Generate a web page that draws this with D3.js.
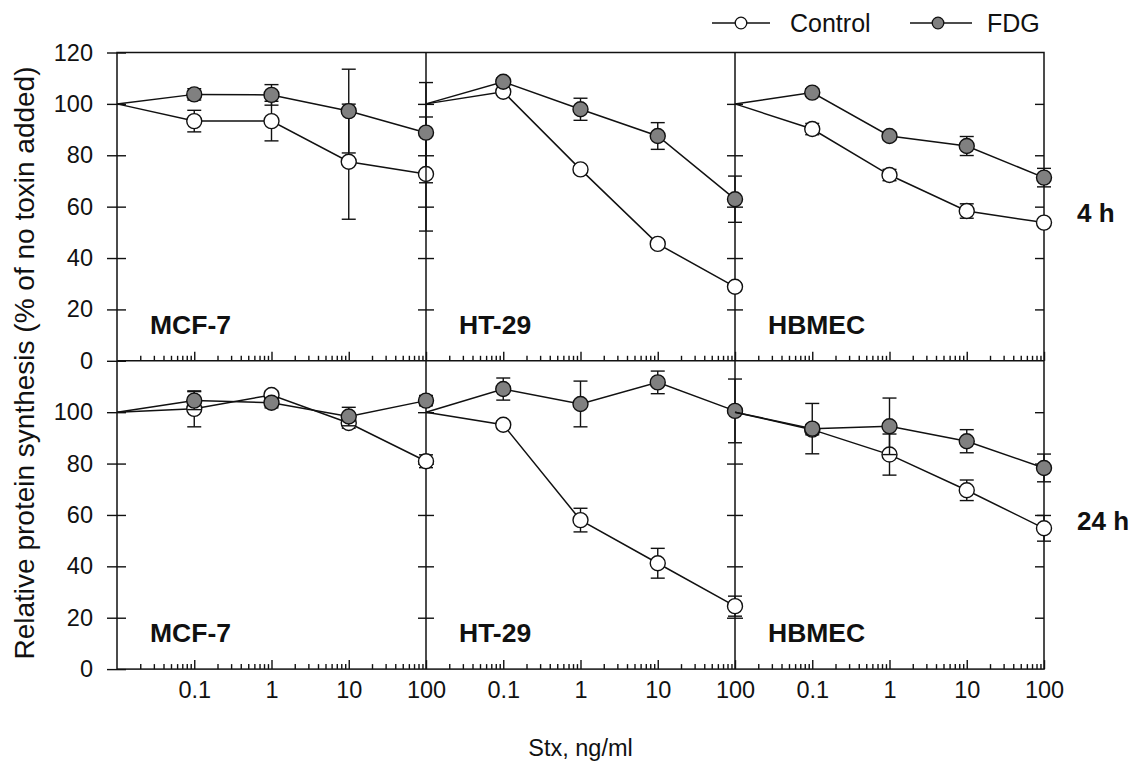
<!DOCTYPE html>
<html>
<head>
<meta charset="utf-8">
<script src="https://cdn.jsdelivr.net/npm/d3@7"></script>
<style>
  body { margin: 0; background: #fff; }
  svg text { font-family: "Liberation Sans", Arial, Helvetica, sans-serif; fill: #111; }
</style>
</head>
<body>
<svg id="chart" width="1138" height="769"></svg>
<script>
// ---- data -------------------------------------------------------------
const cellLines = ["MCF-7", "HT-29", "HBMEC"];
const timePoints = ["4 h", "24 h"];
const seriesNames = ["Control", "FDG"];
const doses = [0.1, 1, 10, 100];          // Stx, ng/ml
const untreatedLevel = 100;                 // no toxin added
const yTicksTop = [0, 20, 40, 60, 80, 100, 120];
const yTicksBottom = [0, 20, 40, 60, 80, 100];
const yInnerTicks = [20, 40, 60, 80, 100];
const xTickLabels = ["0.1", "1", "10", "100"];

// rows: MCF-7, HT-29, HBMEC ; columns: doses
const control4h    = [[93.3, 93.3, 77.5, 72.7], [104.7, 74.5, 45.5, 28.8], [90.2, 72.3, 58.3, 53.8]];
const control4hErr = [[4.2, 7.7, 22.4, 22.2],   [1.0, 1.0, 1.5, 1.5],      [2.2, 2.2, 2.8, 1.5]];
const fdg4h        = [[103.7, 103.5, 97.2, 88.8], [108.6, 97.9, 87.5, 62.9], [104.4, 87.5, 83.6, 71.3]];
const fdg4hErr     = [[2.2, 4.0, 16.3, 19.5],     [1.5, 4.3, 5.2, 9.0],      [1.5, 1.5, 3.7, 3.6]];

const control24h    = [[101.3, 106.7, 95.8, 80.9], [95.1, 58.0, 41.2, 24.5], [93.2, 83.5, 69.6, 54.8]];
const control24hErr = [[7.0, 1.5, 2.0, 2.5],       [1.5, 4.6, 5.8, 3.9],     [2.0, 8.0, 4.0, 5.0]];
const fdg24h        = [[104.5, 103.7, 98.3, 104.5], [109.0, 103.2, 111.6, 100.5], [93.6, 94.5, 88.7, 78.3]];
const fdg24hErr     = [[3.5, 2.0, 3.6, 2.0],        [4.3, 8.9, 4.4, 12.4],        [9.8, 11.0, 4.5, 5.4]];

// ---- layout -----------------------------------------------------------
const svg = d3.select("#chart");
const plotLeft = 117, plotRight = 1044, plotTop = 52.5, rowH = 308.3;
const panelW = (plotRight - plotLeft) / 3;
const plotBottom = plotTop + 2 * rowH;
const ink = "#111";
const grey = "#808080";

const rows = [
  { control: control4h, controlErr: control4hErr, fdg: fdg4h, fdgErr: fdg4hErr, ticks: yTicksTop },
  { control: control24h, controlErr: control24hErr, fdg: fdg24h, fdgErr: fdg24hErr, ticks: yTicksBottom }
];

function yScale(r) {
  return d3.scaleLinear().domain([0, 120]).range([plotTop + rowH * (r + 1), plotTop + rowH * r]);
}
function xScale(p) {
  return d3.scaleLog().domain([0.01, 100]).range([plotLeft + p * panelW, plotLeft + (p + 1) * panelW]);
}

function cleanAxis(g) {
  g.select(".domain").remove();
  g.selectAll(".tick line").attr("stroke", ink).attr("stroke-width", 1.4);
}

// ---- axes -------------------------------------------------------------
rows.forEach((row, r) => {
  const y = yScale(r);

  // left axis: ticks crossing the line, labelled
  svg.append("g").attr("transform", `translate(${plotLeft},0)`)
    .call(d3.axisLeft(y).tickValues(row.ticks).tickSize(10).tickPadding(14))
    .call(cleanAxis)
    .call(g => g.selectAll("text").attr("font-size", 23.5).attr("fill", ink));
  svg.append("g").attr("transform", `translate(${plotLeft},0)`)
    .call(d3.axisRight(y).tickValues(row.ticks).tickSize(9).tickFormat(""))
    .call(cleanAxis);

  // panel dividers carry crossing ticks
  [1, 2].forEach(p => {
    const xpos = plotLeft + p * panelW;
    svg.append("g").attr("transform", `translate(${xpos},0)`)
      .call(d3.axisLeft(y).tickValues(yInnerTicks).tickSize(8).tickFormat(""))
      .call(cleanAxis);
    svg.append("g").attr("transform", `translate(${xpos},0)`)
      .call(d3.axisRight(y).tickValues(yInnerTicks).tickSize(8).tickFormat(""))
      .call(cleanAxis);
  });

  // right edge: inward ticks
  svg.append("g").attr("transform", `translate(${plotRight},0)`)
    .call(d3.axisLeft(y).tickValues(yInnerTicks).tickSize(9).tickFormat(""))
    .call(cleanAxis);

  // log x ticks along the bottom of each row, pointing up
  cellLines.forEach((_, p) => {
    const x = xScale(p);
    const tv = x.ticks().filter(t => t > 0.0100001);
    const g = svg.append("g").attr("transform", `translate(0,${y(0)})`)
      .call(d3.axisBottom(x).tickValues(tv).tickSize(-9).tickFormat(""))
      .call(cleanAxis);
    g.selectAll(".tick line")
      .attr("y2", d => Math.abs(Math.log10(d) - Math.round(Math.log10(d))) < 1e-6 ? -9 : -5);

    if (r === 1) {
      svg.append("g").attr("transform", `translate(0,${y(0)})`)
        .call(d3.axisBottom(x).tickValues(doses).tickSize(0).tickPadding(12)
          .tickFormat((d, i) => xTickLabels[i]))
        .call(g2 => g2.select(".domain").remove())
        .call(g2 => g2.selectAll("text").attr("font-size", 23.5).attr("fill", ink));
    }
  });
});

// frame, row divider and panel dividers
const frame = svg.append("g").attr("stroke", ink).attr("stroke-width", 1.5).attr("fill", "none");
frame.append("rect").attr("x", plotLeft).attr("y", plotTop)
  .attr("width", plotRight - plotLeft).attr("height", plotBottom - plotTop);
frame.append("line").attr("x1", plotLeft).attr("x2", plotRight)
  .attr("y1", plotTop + rowH).attr("y2", plotTop + rowH);
[1, 2].forEach(p => {
  frame.append("line").attr("x1", plotLeft + p * panelW).attr("x2", plotLeft + p * panelW)
    .attr("y1", plotTop).attr("y2", plotBottom);
});

// ---- data marks -------------------------------------------------------
const markR = 7.5, capHalf = 7;
const line = d3.line().x(d => d.x).y(d => d.y);

rows.forEach((row, r) => {
  const y = yScale(r);
  cellLines.forEach((name, p) => {
    const x = xScale(p);
    const seriesDefs = [
      { means: row.control[p], errs: row.controlErr[p], fill: "#fff" },
      { means: row.fdg[p], errs: row.fdgErr[p], fill: grey }
    ];
    seriesDefs.forEach(s => {
      const pts = doses.map((d, i) => ({ x: x(d), y: y(s.means[i]), lo: y(s.means[i] - s.errs[i]), hi: y(s.means[i] + s.errs[i]) }));
      const g = svg.append("g");
      // error bars
      const eb = g.append("g").attr("stroke", ink).attr("stroke-width", 1.4);
      pts.forEach(pt => {
        eb.append("line").attr("x1", pt.x).attr("x2", pt.x).attr("y1", pt.lo).attr("y2", pt.hi);
        eb.append("line").attr("x1", pt.x - capHalf).attr("x2", pt.x + capHalf).attr("y1", pt.lo).attr("y2", pt.lo);
        eb.append("line").attr("x1", pt.x - capHalf).attr("x2", pt.x + capHalf).attr("y1", pt.hi).attr("y2", pt.hi);
      });
      // connecting line from the untreated level at the panel's left edge
      const path = [{ x: x.range()[0], y: y(untreatedLevel) }].concat(pts);
      g.append("path").attr("d", line(path)).attr("fill", "none").attr("stroke", ink).attr("stroke-width", 1.5);
      g.selectAll("circle").data(pts).join("circle")
        .attr("cx", d => d.x).attr("cy", d => d.y).attr("r", markR)
        .attr("fill", s.fill).attr("stroke", ink).attr("stroke-width", 1.4);
    });

    // cell line label
    svg.append("text")
      .attr("x", x.range()[0] + 33)
      .attr("y", y(0) - 27)
      .attr("font-size", 26.5).attr("font-weight", "bold")
      .text(name);
  });

  // time point label on the right
  svg.append("text")
    .attr("x", 1077)
    .attr("y", (y(0) + y(120)) / 2 + 6)
    .attr("dominant-baseline", "central")
    .attr("font-size", 26).attr("font-weight", "bold")
    .text(timePoints[r]);
});

// ---- axis titles ------------------------------------------------------
svg.append("text")
  .attr("transform", `translate(34,363) rotate(-90)`)
  .attr("text-anchor", "middle")
  .attr("font-size", 28)
  .text("Relative protein synthesis (% of no toxin added)");

svg.append("text")
  .attr("x", (plotLeft + plotRight) / 2)
  .attr("y", 748)
  .attr("text-anchor", "middle")
  .attr("dominant-baseline", "central")
  .attr("font-size", 23.5)
  .text("Stx, ng/ml");

// ---- legend -----------------------------------------------------------
const legendItems = [
  { name: seriesNames[0], fill: "#fff", x0: 712, x1: 770, cx: 741, tx: 790 },
  { name: seriesNames[1], fill: grey, x0: 910, x1: 972, cx: 938, tx: 987 }
];
const lg = svg.append("g");
legendItems.forEach(it => {
  lg.append("line").attr("x1", it.x0).attr("x2", it.x1).attr("y1", 23).attr("y2", 23)
    .attr("stroke", ink).attr("stroke-width", 1.4);
  lg.append("circle").attr("cx", it.cx).attr("cy", 23).attr("r", 5.8)
    .attr("fill", it.fill).attr("stroke", ink).attr("stroke-width", 1.3);
  lg.append("text").attr("x", it.tx).attr("y", 23).attr("dominant-baseline", "central")
    .attr("font-size", 25).text(it.name);
});
</script>
</body>
</html>
